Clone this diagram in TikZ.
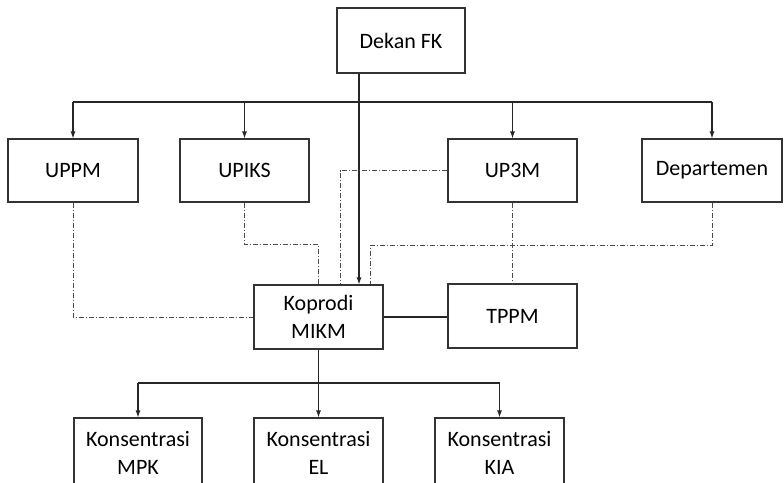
\documentclass[tikz,border=0pt]{standalone}
\usepackage{fontspec}
\setmainfont{Carlito}
\usetikzlibrary{arrows.meta}
\begin{document}
\begin{tikzpicture}[x=1pt,y=-1pt,
  box/.style={draw=black!80,line width=1.1pt,rectangle,inner sep=0pt,align=center,
    font=\fontsize{22}{28}\selectfont},
  solidline/.style={draw=black!85,line width=1.1pt},
  arr/.style={solidline,-{Latex[length=7pt,width=5pt]}},
  dd/.style={draw=black!70,line width=0.9pt,dash pattern=on 5pt off 2pt on 1pt off 2pt}]
\useasboundingbox (0,0) rectangle (784,482);
\begin{scope}
\clip (0,0) rectangle (784,482);
\node[box,minimum width=128pt,minimum height=65pt] (dekan) at (401,40.5) {Dekan FK};
\node[box,minimum width=130pt,minimum height=63pt] (uppm) at (73,170.5) {UPPM};
\node[box,minimum width=129pt,minimum height=63pt] (upiks) at (244.5,170.5) {UPIKS};
\node[box,minimum width=129pt,minimum height=63pt] (up3m) at (512.5,170.5) {UP3M};
\node[box,minimum width=140pt,minimum height=63pt] (dep) at (712,170.5) {Departemen};
\node[box,minimum width=129pt,minimum height=64pt] (kop) at (318.5,317) {Koprodi\\MIKM};
\node[box,minimum width=129pt,minimum height=64pt] (tppm) at (512.5,316) {TPPM};
\node[box,minimum width=128pt,minimum height=69pt] (mpk) at (138,452.5) {Konsentrasi\\MPK};
\node[box,minimum width=129pt,minimum height=69pt] (el) at (318.5,452.5) {Konsentrasi\\EL};
\node[box,minimum width=129pt,minimum height=69pt] (kia) at (499.5,452.5) {Konsentrasi\\KIA};
\end{scope}
\coordinate (bus) at (0,102);
\coordinate (dk) at (359,0);
\coordinate (bus2) at (0,383);
% top bus
\draw[solidline] (uppm.north |- bus) -- (dep.north |- bus);
\foreach \n in {uppm,upiks,up3m,dep}
  \draw[arr] (\n.north |- bus) -- (\n.north);
\draw[arr] (dk |- dekan.south) -- (dk |- kop.north);
% dash-dot links
\draw[dd] (uppm.south) |- (kop.west);
\draw[dd] (upiks.south) -- ++(0,42) -| (kop.north);
\coordinate (l3) at (340,0);
\draw[dd] (up3m.west) -| (l3 |- kop.north);
\coordinate (l4) at (370,0);
\draw[dd] (dep.south) -- ++(0,43) -| (l4 |- kop.north);
\draw[dd] (up3m.south) -- (tppm.north);
% koprodi - tppm
\draw[solidline] (kop.east) -- (kop.east -| tppm.west);
% bottom bus
\draw[solidline] (kop.south) -- (kop.south |- bus2);
\draw[solidline] (mpk.north |- bus2) -- (kia.north |- bus2);
\foreach \n in {mpk,el,kia}
  \draw[arr] (\n.north |- bus2) -- (\n.north);
\end{tikzpicture}
\end{document}
